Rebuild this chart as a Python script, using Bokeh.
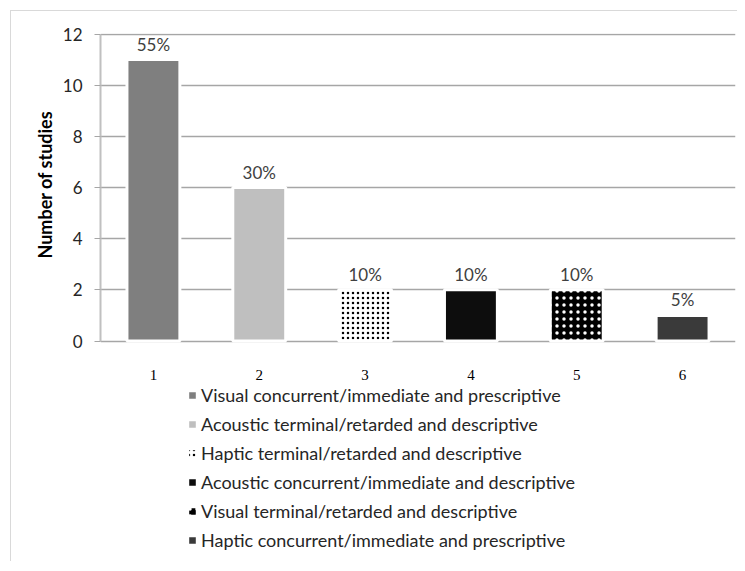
from bokeh.plotting import figure
from bokeh.models import Range1d, FixedTicker, Legend, LegendItem, ColumnDataSource, Title
from bokeh.core.properties import value
from bokeh.embed import file_html
from bokeh.resources import INLINE

categories = [1, 2, 3, 4, 5, 6]
counts = [11, 6, 2, 2, 2, 1]
percent_labels = ["55%", "30%", "10%", "10%", "10%", "5%"]
series_names = [
    "Visual concurrent/immediate and prescriptive",
    "Acoustic terminal/retarded and descriptive",
    "Haptic terminal/retarded and descriptive",
    "Acoustic concurrent/immediate and descriptive",
    "Visual terminal/retarded and descriptive",
    "Haptic concurrent/immediate and prescriptive",
]
y_ticks = [0, 2, 4, 6, 8, 10, 12]
y_label = "Number of studies"

# styles
fills = ["#7f7f7f", "#bfbfbf", "#ffffff", "#0d0d0d", "#000000", "#3a3a3a"]
hatches = [" ", " ", "dot", " ", "dot", " "]
hatch_colors = ["#000000", "#000000", "#000000", "#000000", "#ffffff", "#000000"]
hatch_scales = [4, 4, 5, 4, 7, 4]
hatch_weights = [1, 1, 2, 1, 1, 1]

SANS = "Lato"
SERIF = "Liberation Serif"

TOP = 12.02
PX_PER_UNIT = 307 / 12.0
FRAME_H = 528
y_start = TOP - FRAME_H / PX_PER_UNIT  # extra room below zero for tick labels and legend

p = figure(
    output_backend="svg", toolbar_location=None,
    frame_width=635, frame_height=FRAME_H,
    min_border_left=100, min_border_right=2, min_border_top=33, min_border_bottom=0,
    x_range=Range1d(0.5, 6.5), y_range=Range1d(y_start, TOP),
)
p.outline_line_color = None
p.background_fill_color = "white"
p.border_fill_color = None
p.styles = {
    "background-color": "white",
    "background-image": "linear-gradient(#d9d9d9,#d9d9d9), linear-gradient(#d9d9d9,#d9d9d9)",
    "background-size": "100% 1px, 1px 100%",
    "background-position": "10px 10px, 10px 10px",
    "background-repeat": "no-repeat",
}

items = []
for i in range(len(categories)):
    r = p.vbar(
        x=[categories[i]], top=[counts[i]], width=0.5,
        fill_color=fills[i], line_color="white", line_width=3,
        hatch_pattern=hatches[i], hatch_color=hatch_colors[i],
        hatch_scale=hatch_scales[i], hatch_weight=hatch_weights[i],
    )
    items.append(LegendItem(label=series_names[i], renderers=[r]))

src = ColumnDataSource(dict(x=categories, y=counts, t=percent_labels))
p.text(x="x", y="y", text="t", source=src, text_align="center", text_baseline="bottom",
       y_offset=-5, text_font=value(SANS), text_font_size="17px", text_color="#404040")

# axes
p.xaxis.fixed_location = 0
p.xaxis.ticker = FixedTicker(ticks=categories)
p.xaxis.axis_line_color = None
p.xaxis.major_tick_line_color = None
p.xaxis.minor_tick_line_color = None
p.xaxis.major_label_text_font = SERIF
p.xaxis.major_label_text_font_size = "15px"
p.xaxis.major_label_text_color = "#000000"
p.xaxis.major_label_standoff = 23

p.yaxis.ticker = FixedTicker(ticks=y_ticks)
p.yaxis.bounds = (0, 12)
p.yaxis.axis_line_color = "#c0c0c0"
p.yaxis.axis_line_width = 2
p.yaxis.major_tick_line_color = "#a6a6a6"
p.yaxis.major_tick_out = 6
p.yaxis.major_tick_in = 0
p.yaxis.minor_tick_line_color = None
p.yaxis.major_label_text_font = SANS
p.yaxis.major_label_text_font_size = "17px"
p.yaxis.major_label_text_color = "#262626"
p.yaxis.major_label_standoff = 12

ytitle = Title(text=y_label, align="left", offset=303, standoff=8,
               text_font=SANS, text_font_size="18px", text_font_style="bold",
               text_color="#000000")
p.add_layout(ytitle, "left")

p.xgrid.grid_line_color = None
p.ygrid.grid_line_color = "#a6a6a6"
p.ygrid.grid_line_width = 1.5

legend = Legend(items=items, location=(86, 10), orientation="vertical",
                label_text_font=SANS, label_text_font_size="18px", label_text_color="#262626",
                glyph_width=12, glyph_height=12, label_height=20, spacing=7,
                label_standoff=3, padding=0, margin=0,
                border_line_color=None, background_fill_alpha=0)
p.add_layout(legend, "center")

open("out.html", "w").write(file_html(p, INLINE))
